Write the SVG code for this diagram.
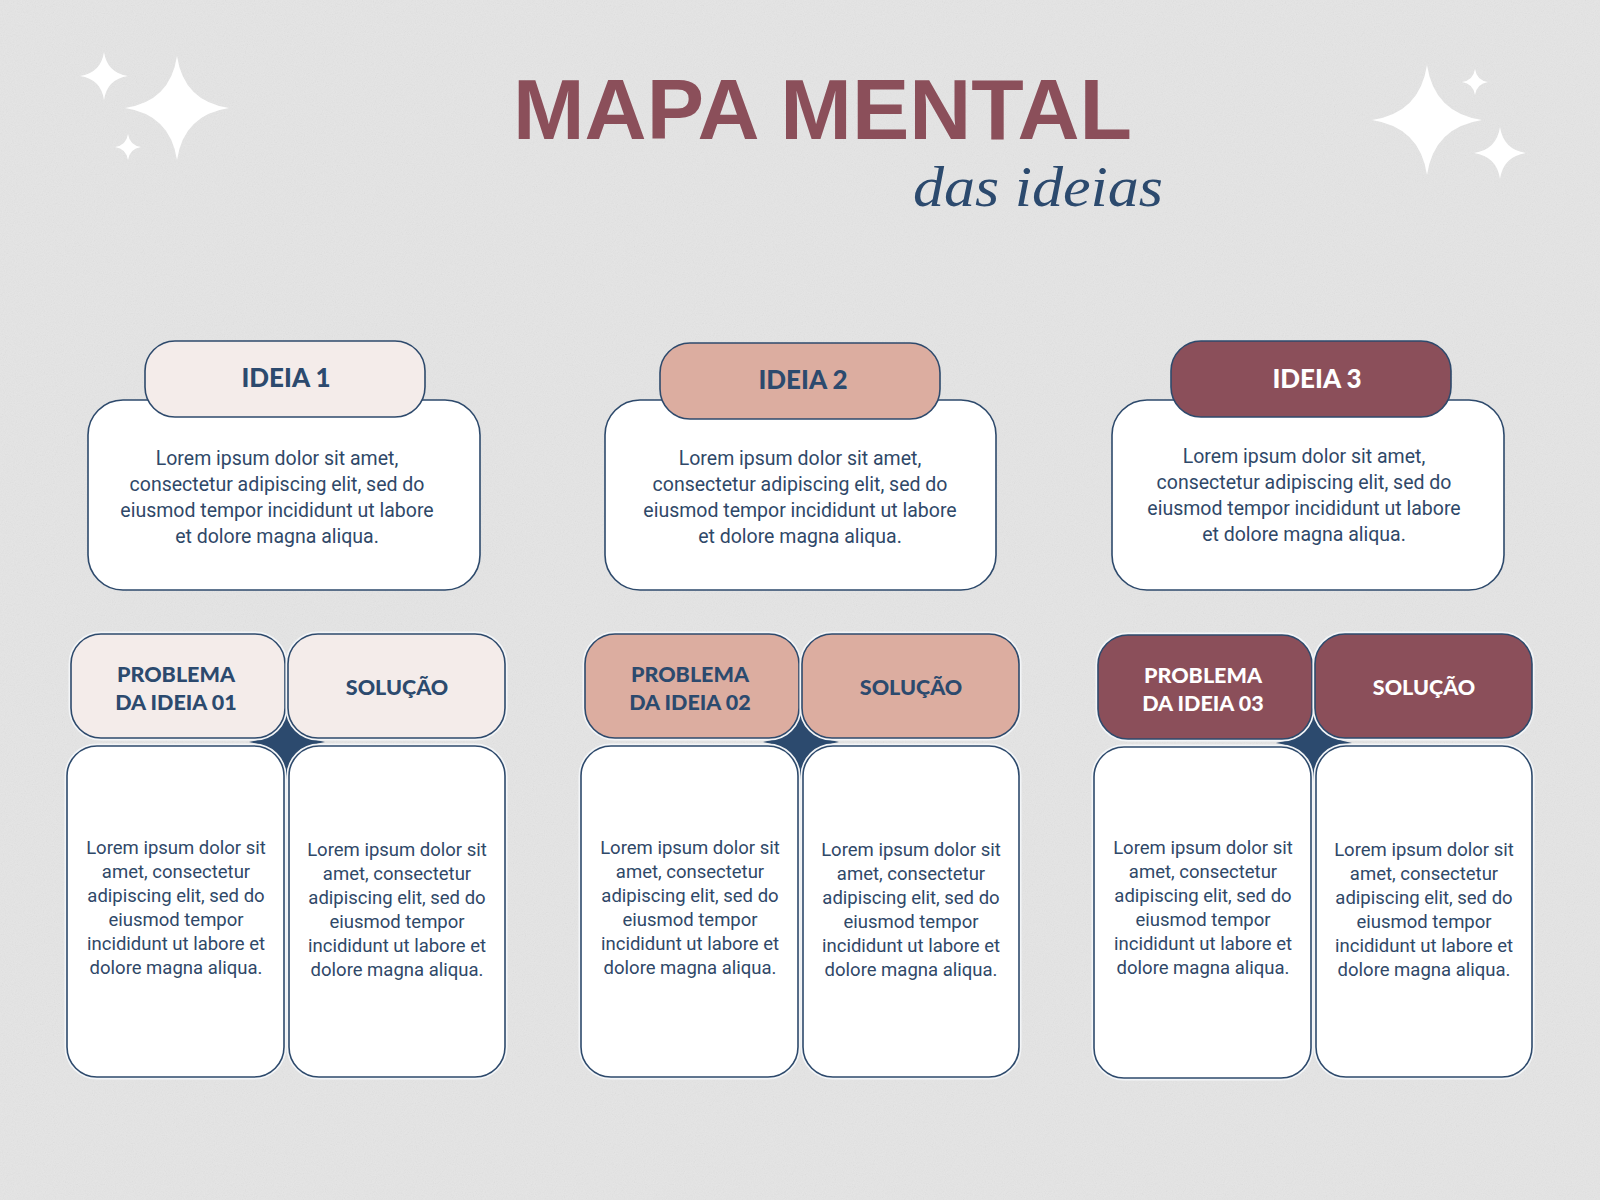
<svg xmlns="http://www.w3.org/2000/svg" xmlns:xlink="http://www.w3.org/1999/xlink" width="1600" height="1200" viewBox="0 0 1600 1200">
<defs>
<style>
.bx{stroke:#2e4a6c;stroke-width:1.6}
.halo{fill:none;stroke:#f3f5f7;stroke-width:5}
.w{fill:#ffffff}
.c1{fill:#f4ecea}
.c2{fill:#dcada0}
.c3{fill:#8b4f5a}
.hd{font-family:Lato,"Liberation Sans",sans-serif;font-weight:900;fill:#2c4a6e;text-anchor:middle}
.hdw{fill:#ffffff}
.body{font-family:Roboto,"Liberation Sans",sans-serif;fill:#2f4868;text-anchor:middle}
.spark{fill:#ffffff}
.nav{fill:#2c4a6e}
</style>
<path id="star" d="M0,-100 Q13,-13 100,0 Q13,13 0,100 Q-13,13 -100,0 Q-13,-13 0,-100Z"/>
<filter id="noise" x="0" y="0" width="100%" height="100%">
<feTurbulence type="fractalNoise" baseFrequency="0.9" numOctaves="2" stitchTiles="stitch"/>
<feColorMatrix type="saturate" values="0"/>
</filter>
</defs>
<rect width="1600" height="1200" fill="#e5e5e5"/>
<rect width="1600" height="1200" filter="url(#noise)" opacity="0.12"/>

<g id="sparkles" class="spark">
<use xlink:href="#star" href="#star" transform="translate(177,108) scale(0.52)"/>
<use xlink:href="#star" href="#star" transform="translate(104,76) scale(0.24)"/>
<use xlink:href="#star" href="#star" transform="translate(128,147) scale(0.13)"/>
<use xlink:href="#star" href="#star" transform="translate(1427,120) scale(0.55)"/>
<use xlink:href="#star" href="#star" transform="translate(1475,82) scale(0.13)"/>
<use xlink:href="#star" href="#star" transform="translate(1500,153) scale(0.26)"/>
</g>

<g id="title">
<text x="513" y="139" font-family="'Liberation Sans',Arial,sans-serif" font-weight="bold" font-size="86" fill="#8b4f5a" textLength="619" lengthAdjust="spacingAndGlyphs">MAPA MENTAL</text>
<text x="913" y="206" font-family="'Liberation Serif',serif" font-style="italic" font-size="56" fill="#2c4a6e" textLength="250" lengthAdjust="spacingAndGlyphs">das ideias</text>
</g>

<g id="ideia1">
<rect class="bx w" x="88" y="400" width="392" height="190" rx="35"/>
<rect class="bx c1" x="145" y="341" width="280" height="76" rx="30"/>
<text class="hd" x="286" y="387" font-size="26">IDEIA 1</text>
<text class="body" x="277" font-size="19.5"><tspan x="277" y="465">Lorem ipsum dolor sit amet,</tspan><tspan x="277" y="491">consectetur adipiscing elit, sed do</tspan><tspan x="277" y="517">eiusmod tempor incididunt ut labore</tspan><tspan x="277" y="543">et dolore magna aliqua.</tspan></text>
</g>
<g id="ideia2">
<rect class="bx w" x="605" y="400" width="391" height="190" rx="35"/>
<rect class="bx c2" x="660" y="343" width="280" height="76" rx="30"/>
<text class="hd" x="803" y="389" font-size="26">IDEIA 2</text>
<text class="body" x="800" font-size="19.5"><tspan x="800" y="465">Lorem ipsum dolor sit amet,</tspan><tspan x="800" y="491">consectetur adipiscing elit, sed do</tspan><tspan x="800" y="517">eiusmod tempor incididunt ut labore</tspan><tspan x="800" y="543">et dolore magna aliqua.</tspan></text>
</g>
<g id="ideia3">
<rect class="bx w" x="1112" y="400" width="392" height="190" rx="35"/>
<rect class="bx c3" x="1171" y="341" width="280" height="76" rx="30"/>
<text class="hd hdw" x="1317" y="388" font-size="26">IDEIA 3</text>
<text class="body" x="1304" font-size="19.5"><tspan x="1304" y="463">Lorem ipsum dolor sit amet,</tspan><tspan x="1304" y="489">consectetur adipiscing elit, sed do</tspan><tspan x="1304" y="515">eiusmod tempor incididunt ut labore</tspan><tspan x="1304" y="541">et dolore magna aliqua.</tspan></text>
</g>

<g id="connectors" class="nav">
<use xlink:href="#star" href="#star" transform="translate(287,742) scale(0.38)"/>
<use xlink:href="#star" href="#star" transform="translate(801,742) scale(0.38)"/>
<use xlink:href="#star" href="#star" transform="translate(1314,743) scale(0.38)"/>
</g>

<g id="problema1">
<rect class="halo" x="71" y="634" width="214" height="104" rx="30"/>
<rect class="bx c1" x="71" y="634" width="214" height="104" rx="30"/>
<text class="hd" x="176" y="682" font-size="21.5">PROBLEMA</text>
<text class="hd" x="176" y="710" font-size="21.5">DA IDEIA 01</text>
</g>
<g id="solucao1">
<rect class="halo" x="288" y="634" width="217" height="104" rx="30"/>
<rect class="bx c1" x="288" y="634" width="217" height="104" rx="30"/>
<text class="hd" x="397" y="695" font-size="21.5">SOLUÇÃO</text>
</g>
<g id="problema1-texto">
<rect class="halo" x="67" y="746" width="217" height="331" rx="30"/>
<rect class="bx w" x="67" y="746" width="217" height="331" rx="30"/>
<text class="body" font-size="18.5"><tspan x="176" y="854">Lorem ipsum dolor sit</tspan><tspan x="176" y="878">amet, consectetur</tspan><tspan x="176" y="902">adipiscing elit, sed do</tspan><tspan x="176" y="926">eiusmod tempor</tspan><tspan x="176" y="950">incididunt ut labore et</tspan><tspan x="176" y="974">dolore magna aliqua.</tspan></text>
</g>
<g id="solucao1-texto">
<rect class="halo" x="289" y="746" width="216" height="331" rx="30"/>
<rect class="bx w" x="289" y="746" width="216" height="331" rx="30"/>
<text class="body" font-size="18.5"><tspan x="397" y="856">Lorem ipsum dolor sit</tspan><tspan x="397" y="880">amet, consectetur</tspan><tspan x="397" y="904">adipiscing elit, sed do</tspan><tspan x="397" y="928">eiusmod tempor</tspan><tspan x="397" y="952">incididunt ut labore et</tspan><tspan x="397" y="976">dolore magna aliqua.</tspan></text>
</g>

<g id="problema2">
<rect class="halo" x="585" y="634" width="214" height="104" rx="30"/>
<rect class="bx c2" x="585" y="634" width="214" height="104" rx="30"/>
<text class="hd" x="690" y="682" font-size="21.5">PROBLEMA</text>
<text class="hd" x="690" y="710" font-size="21.5">DA IDEIA 02</text>
</g>
<g id="solucao2">
<rect class="halo" x="802" y="634" width="217" height="104" rx="30"/>
<rect class="bx c2" x="802" y="634" width="217" height="104" rx="30"/>
<text class="hd" x="911" y="695" font-size="21.5">SOLUÇÃO</text>
</g>
<g id="problema2-texto">
<rect class="halo" x="581" y="746" width="217" height="331" rx="30"/>
<rect class="bx w" x="581" y="746" width="217" height="331" rx="30"/>
<text class="body" font-size="18.5"><tspan x="690" y="854">Lorem ipsum dolor sit</tspan><tspan x="690" y="878">amet, consectetur</tspan><tspan x="690" y="902">adipiscing elit, sed do</tspan><tspan x="690" y="926">eiusmod tempor</tspan><tspan x="690" y="950">incididunt ut labore et</tspan><tspan x="690" y="974">dolore magna aliqua.</tspan></text>
</g>
<g id="solucao2-texto">
<rect class="halo" x="803" y="746" width="216" height="331" rx="30"/>
<rect class="bx w" x="803" y="746" width="216" height="331" rx="30"/>
<text class="body" font-size="18.5"><tspan x="911" y="856">Lorem ipsum dolor sit</tspan><tspan x="911" y="880">amet, consectetur</tspan><tspan x="911" y="904">adipiscing elit, sed do</tspan><tspan x="911" y="928">eiusmod tempor</tspan><tspan x="911" y="952">incididunt ut labore et</tspan><tspan x="911" y="976">dolore magna aliqua.</tspan></text>
</g>

<g id="problema3">
<rect class="halo" x="1098" y="635" width="214" height="104" rx="30"/>
<rect class="bx c3" x="1098" y="635" width="214" height="104" rx="30"/>
<text class="hd hdw" x="1203" y="683" font-size="21.5">PROBLEMA</text>
<text class="hd hdw" x="1203" y="711" font-size="21.5">DA IDEIA 03</text>
</g>
<g id="solucao3">
<rect class="halo" x="1315" y="634" width="217" height="104" rx="30"/>
<rect class="bx c3" x="1315" y="634" width="217" height="104" rx="30"/>
<text class="hd hdw" x="1424" y="695" font-size="21.5">SOLUÇÃO</text>
</g>
<g id="problema3-texto">
<rect class="halo" x="1094" y="747" width="217" height="331" rx="30"/>
<rect class="bx w" x="1094" y="747" width="217" height="331" rx="30"/>
<text class="body" font-size="18.5"><tspan x="1203" y="854">Lorem ipsum dolor sit</tspan><tspan x="1203" y="878">amet, consectetur</tspan><tspan x="1203" y="902">adipiscing elit, sed do</tspan><tspan x="1203" y="926">eiusmod tempor</tspan><tspan x="1203" y="950">incididunt ut labore et</tspan><tspan x="1203" y="974">dolore magna aliqua.</tspan></text>
</g>
<g id="solucao3-texto">
<rect class="halo" x="1316" y="746" width="216" height="331" rx="30"/>
<rect class="bx w" x="1316" y="746" width="216" height="331" rx="30"/>
<text class="body" font-size="18.5"><tspan x="1424" y="856">Lorem ipsum dolor sit</tspan><tspan x="1424" y="880">amet, consectetur</tspan><tspan x="1424" y="904">adipiscing elit, sed do</tspan><tspan x="1424" y="928">eiusmod tempor</tspan><tspan x="1424" y="952">incididunt ut labore et</tspan><tspan x="1424" y="976">dolore magna aliqua.</tspan></text>
</g>
</svg>
